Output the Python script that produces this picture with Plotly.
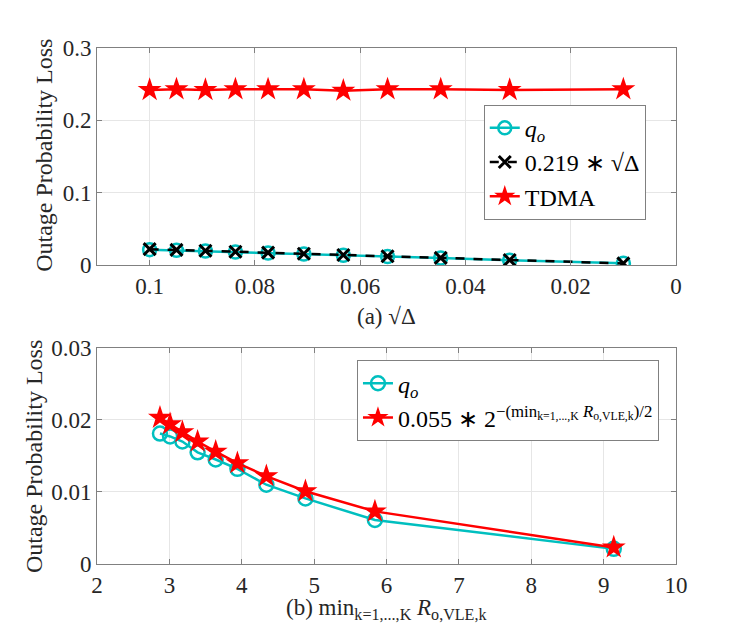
import plotly.graph_objects as go

# ---- data (a) ----
sqrt_delta = [0.1, 0.0949, 0.0894, 0.0837, 0.0775, 0.0707, 0.0632, 0.0548, 0.0447, 0.0316, 0.01]
qo_a = [0.0212, 0.0202, 0.0192, 0.0180, 0.0166, 0.0152, 0.0135, 0.0118, 0.0096, 0.0067, 0.0024]
approx_a = [0.0219, 0.0208, 0.0196, 0.0183, 0.0170, 0.0155, 0.0138, 0.0120, 0.0098, 0.0069, 0.0022]
tdma_a = [0.242, 0.243, 0.242, 0.243, 0.243, 0.243, 0.241, 0.243, 0.243, 0.242, 0.243]

# ---- data (b) ----
rmin = [2.87, 3.01, 3.18, 3.39, 3.64, 3.94, 4.34, 4.88, 5.84, 9.14]
qo_b = [0.0181, 0.0177, 0.0170, 0.0155, 0.0145, 0.0132, 0.0110, 0.0091, 0.0061, 0.0021]
approx_b = [0.0203, 0.0194, 0.0183, 0.0170, 0.0156, 0.0140, 0.0122, 0.0101, 0.0073, 0.0023]

xa_ticks = [0.1, 0.08, 0.06, 0.04, 0.02, 0]
xa_text = ["0.1", "0.08", "0.06", "0.04", "0.02", "0"]
ya_ticks = [0, 0.1, 0.2, 0.3]
ya_text = ["0", "0.1", "0.2", "0.3"]
xb_ticks = [2, 3, 4, 5, 6, 7, 8, 9, 10]
xb_text = ["2", "3", "4", "5", "6", "7", "8", "9", "10"]
yb_ticks = [0, 0.01, 0.02, 0.03]
yb_text = ["0", "0.01", "0.02", "0.03"]

CYAN = "#00BFBF"
RED = "#FF0000"
FONT = "Liberation Serif, Times New Roman, serif"

fig = go.Figure()

fig.add_trace(go.Scatter(x=sqrt_delta, y=qo_a, mode="lines+markers", name="<i>q<sub>o</sub></i>",
                         line=dict(color=CYAN, width=2.5),
                         marker=dict(symbol="circle-open", size=13, color=CYAN, line=dict(width=2.5)),
                         xaxis="x", yaxis="y", legend="legend"))
fig.add_trace(go.Scatter(x=sqrt_delta, y=approx_a, mode="lines+markers", name="0.219 ∗ √Δ",
                         line=dict(color="black", width=2.5, dash="dash"),
                         marker=dict(symbol="x-thin-open", size=12, color="black", line=dict(width=3, color="black")),
                         xaxis="x", yaxis="y", legend="legend"))
fig.add_trace(go.Scatter(x=sqrt_delta, y=tdma_a, mode="lines+markers", name="TDMA",
                         line=dict(color=RED, width=2.5),
                         marker=dict(symbol="star", size=18, color=RED),
                         xaxis="x", yaxis="y", legend="legend"))

fig.add_trace(go.Scatter(x=rmin, y=qo_b, mode="lines+markers", name="<i>q<sub>o</sub></i>",
                         line=dict(color=CYAN, width=2.5),
                         marker=dict(symbol="circle-open", size=14, color=CYAN, line=dict(width=2.5)),
                         xaxis="x2", yaxis="y2", legend="legend2"))
fig.add_trace(go.Scatter(x=rmin, y=approx_b, mode="lines+markers",
                         name="0.055 ∗ 2<sup>−(min<sub>k=1,...,K</sub> <i>R</i><sub>o,VLE,k</sub>)/2</sup>",
                         line=dict(color=RED, width=2.5),
                         marker=dict(symbol="star", size=18, color=RED),
                         xaxis="x2", yaxis="y2", legend="legend2"))

tick_font = dict(family=FONT, size=23, color="#262626")
axis_common = dict(showline=True, linecolor="#808080", linewidth=1, mirror="ticks",
                   ticks="inside", ticklen=5, tickcolor="#808080",
                   showgrid=True, gridcolor="#E6E6E6", gridwidth=1, zeroline=False,
                   tickfont=tick_font, tickmode="array")

fig.update_layout(
    width=747, height=634,
    font=dict(family=FONT, size=22, color="#262626"),
    paper_bgcolor="white", plot_bgcolor="white",
    margin=dict(l=97, r=71, t=48, b=70),
    showlegend=True,
    xaxis=dict(domain=[0, 1], anchor="y", range=[0.11, 0], tickvals=xa_ticks, ticktext=xa_text, **axis_common),
    yaxis=dict(domain=[0.5795, 1], anchor="x", range=[0, 0.3], tickvals=ya_ticks, ticktext=ya_text, **axis_common),
    xaxis2=dict(domain=[0, 1], anchor="y2", range=[2, 10], tickvals=xb_ticks, ticktext=xb_text, **axis_common),
    yaxis2=dict(domain=[0, 0.419], anchor="x2", range=[0, 0.03], tickvals=yb_ticks, ticktext=yb_text, **axis_common),
    legend=dict(x=0.668, y=0.890, xanchor="left", yanchor="top", bgcolor="white",
                bordercolor="#808080", borderwidth=1, font=dict(family=FONT, size=24, color="black"),
                tracegroupgap=0),
    legend2=dict(x=0.449, y=0.395, xanchor="left", yanchor="top", bgcolor="white",
                 bordercolor="#808080", borderwidth=1, font=dict(family=FONT, size=24, color="black"),
                 tracegroupgap=0),
    annotations=[
        dict(text="(a) √Δ", x=0.5, y=0.4806, xref="paper", yref="paper", showarrow=False,
             xanchor="center", yanchor="middle", font=dict(family=FONT, size=23, color="#262626")),
        dict(text="(b) min<sub>k=1,...,K</sub> <i>R</i><sub>o,VLE,k</sub>", x=0.5, y=-0.088,
             xref="paper", yref="paper", showarrow=False,
             xanchor="center", yanchor="middle", font=dict(family=FONT, size=23, color="#262626")),
        dict(text="Outage Probability Loss", x=-0.0915, y=0.791, xref="paper", yref="paper",
             showarrow=False, textangle=-90, xanchor="center", yanchor="middle",
             font=dict(family=FONT, size=24, color="#262626")),
        dict(text="Outage Probability Loss", x=-0.109, y=0.209, xref="paper", yref="paper",
             showarrow=False, textangle=-90, xanchor="center", yanchor="middle",
             font=dict(family=FONT, size=24, color="#262626")),
    ],
)

fig.write_html("out.html", config={"displayModeBar": False},
               post_script="document.body.style.margin='0';document.body.style.overflow='hidden';")
